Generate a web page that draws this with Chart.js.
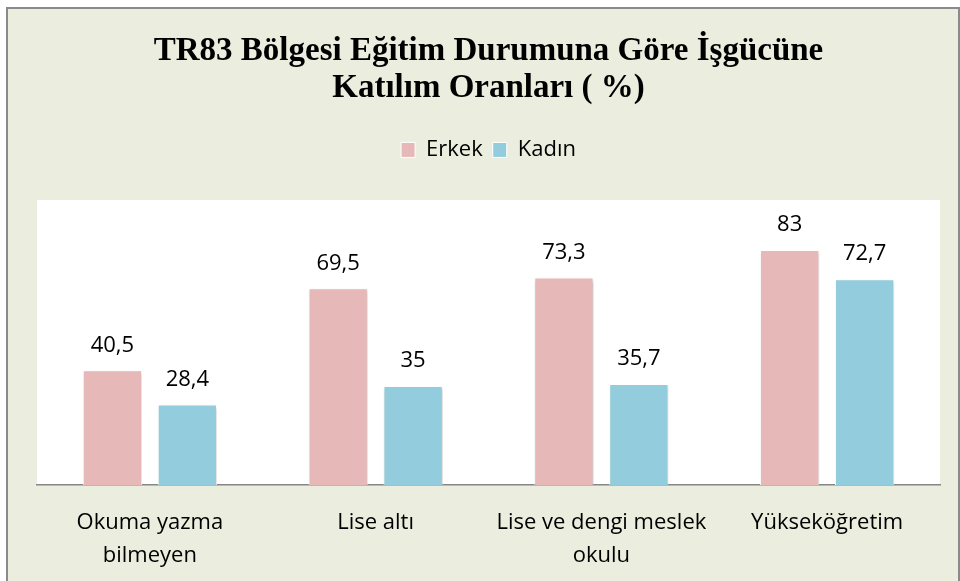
<!DOCTYPE html>
<html>
<head>
<meta charset="utf-8">
<script src="https://cdn.jsdelivr.net/npm/chart.js@4.4.1/dist/chart.umd.min.js"></script>
<style>
  html, body { margin: 0; padding: 0; background: #ffffff; }
  #frame {
    position: absolute; left: 6px; top: 7px; width: 950px; height: 580px;
    border: 2px solid #8a8a8a; background: #ebeede;
  }
  #wrap { position: absolute; left: 0; top: 0; width: 960px; height: 581px; }
</style>
</head>
<body>
<div id="frame"></div>
<div id="wrap"><canvas id="chart" width="960" height="581"></canvas></div>
<script>
// chart data
const categories = [
	['Okuma yazma', 'bilmeyen'],
	'Lise altı',
	['Lise ve dengi meslek', 'okulu'],
	'Yükseköğretim'
];
const erkek = [40.5, 69.5, 73.3, 83];
const kadin = [28.4, 35, 35.7, 72.7];
const titleLines = ['TR83 Bölgesi Eğitim Durumuna Göre İşgücüne', 'Katılım Oranları ( %)'];

// white plot background
const plotBackground = {
	id: 'plotBackground',
	beforeDraw(chart) {
		const a = chart.chartArea, ctx = chart.ctx;
		ctx.save();
		ctx.fillStyle = '#ffffff';
		ctx.fillRect(a.left, a.top - 2, a.right - a.left, a.bottom - a.top + 2);
		ctx.restore();
	}
};

// soft shadow under the bars
const barShadow = {
	id: 'barShadow',
	beforeDatasetsDraw(chart) {
		const ctx = chart.ctx;
		ctx.save();
		ctx.shadowColor = 'rgba(0,0,0,0.22)';
		ctx.shadowBlur = 3;
		ctx.shadowOffsetX = 1;
		ctx.shadowOffsetY = 2;
	},
	afterDatasetsDraw(chart) {
		chart.ctx.restore();
	}
};

// value labels above each bar, with decimal comma
const valueLabels = {
	id: 'valueLabels',
	afterDatasetsDraw(chart) {
		const ctx = chart.ctx;
		ctx.save();
		ctx.font = '22px "Open Sans"';
		ctx.fillStyle = '#000000';
		ctx.textAlign = 'center';
		ctx.textBaseline = 'middle';
		chart.data.datasets.forEach(function(ds, i) {
			chart.getDatasetMeta(i).data.forEach(function(bar, j) {
				ctx.fillText(String(ds.data[j]).replace('.', ','), bar.x, bar.y - 25);
			});
		});
		ctx.restore();
	}
};

// extra room between legend and plot
const legendGap = {
	id: 'legendGap',
	beforeInit(chart) {
		const fit = chart.legend.fit;
		chart.legend.fit = function() {
			fit.bind(chart.legend)();
			this.height += 31;
		};
	}
};

new Chart(document.getElementById('chart'), {
	type: 'bar',
	data: {
		labels: categories,
		datasets: [
			{ label: 'Erkek', data: erkek, backgroundColor: '#e6b8b7', borderColor: '#ffffff', borderWidth: 1 },
			{ label: 'Kadın', data: kadin, backgroundColor: '#93cddd', borderColor: '#ffffff', borderWidth: 1 }
		]
	},
	options: {
		responsive: false,
		animation: false,
		categoryPercentage: 0.664,
		barPercentage: 0.79,
		layout: { padding: { left: 37, right: 20, top: 0, bottom: 0 } },
		plugins: {
			title: {
				display: true,
				text: titleLines,
				color: '#000000',
				font: { family: 'Liberation Serif', size: 33, weight: 'bold', lineHeight: 1.12 },
				padding: { top: 33, bottom: 22 }
			},
			legend: {
				labels: {
					color: '#000000',
					font: { family: 'Open Sans', size: 22 },
					boxWidth: 14,
					boxHeight: 15,
					padding: 10
				}
			},
			tooltip: { enabled: false }
		},
		scales: {
			x: {
				grid: { display: false, drawTicks: false },
				border: { display: true, color: '#868686', width: 1.5 },
				ticks: {
					color: '#000000',
					font: { family: 'Open Sans', size: 22, lineHeight: 1.47 },
					padding: 22,
					maxRotation: 0,
					autoSkip: false
				},
				afterFit(scale) { scale.height = 96; }
			},
			y: { display: false, min: 0, max: 100 }
		}
	},
	plugins: [plotBackground, barShadow, valueLabels, legendGap]
});
</script>
</body>
</html>
